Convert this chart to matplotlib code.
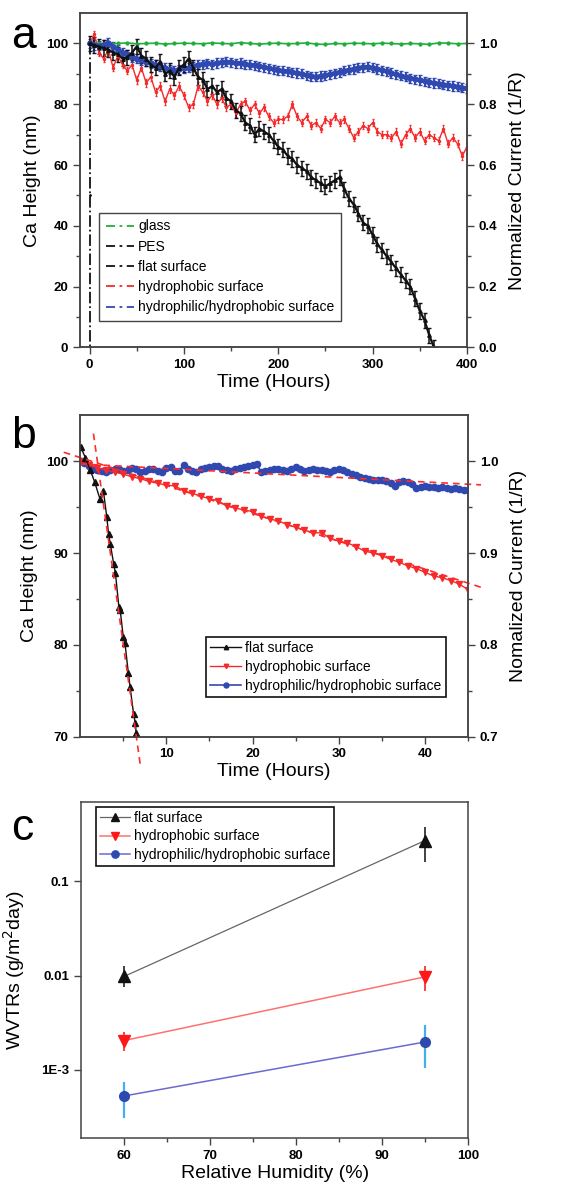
import numpy as np
import matplotlib
matplotlib.use("Agg")
import matplotlib.pyplot as plt
from matplotlib.lines import Line2D
from matplotlib.ticker import MultipleLocator, FixedLocator, NullLocator

plt.rcParams['font.family'] = ['Liberation Sans', 'DejaVu Sans']

# ---------------- panel a : long-term Ca test ----------------
a_labels = ['glass', 'PES', 'flat surface', 'hydrophobic surface',
            'hydrophilic/hydrophobic surface']

a_glass_t = np.arange(0, 401, 10)
a_glass_y = [100, 100.1, 99.9, 100, 100.2, 99.9, 100, 100.1, 99.8, 100, 100.1,
             100, 99.9, 100.2, 100, 99.9, 100.3, 100, 99.8, 100, 100.1,
             99.9, 100, 100.2, 99.8, 99.7, 100, 99.9, 100.1, 100, 99.9,
             100.1, 100, 99.8, 100, 99.9, 99.7, 100.2, 100.1, 99.9, 100]

a_pes_t = [0, 0, 0]
a_pes_y = [100, 50, 0]

a_flat_t = np.arange(0, 366, 5)
a_flat_y = [100, 99.5, 99, 98.5, 98, 97, 96.5, 95, 95.5, 97, 99, 96, 95, 93,
            92, 94, 90, 91, 89, 92, 93, 95, 92, 89, 88, 85, 86, 84, 85, 82,
            81, 78, 77, 74, 73, 70, 72, 71, 70, 68, 66, 65, 63, 62, 60, 59,
            58, 56, 55, 54, 53, 54, 55, 56, 52, 49, 47, 44, 41, 40, 37, 34,
            32, 30, 28, 26, 24, 22, 20, 16, 12, 9, 4, 0]

a_hphob_t = np.arange(0, 401, 5)
a_hphob_y = [100, 103, 97, 95, 98, 92, 96, 93, 91, 93, 88, 92, 87, 89, 84,
             86, 81, 85, 83, 86, 83, 79, 80, 86, 84, 81, 83, 80, 82, 79, 80,
             77, 80, 81, 78, 80, 77, 79, 76, 74, 75, 75, 76, 80, 76, 74, 76,
             73, 74, 72, 75, 74, 76, 74, 75, 72, 69, 71, 73, 72, 74, 71, 70,
             70, 69, 71, 67, 70, 72, 69, 71, 68, 70, 69, 68, 72, 67, 69, 67,
             63, 66]

a_mixed_t = np.arange(0, 401, 5)
a_mixed_y = [100, 99.5, 99.2, 99.6, 100.2, 99, 98, 97, 96.5, 95.5, 95, 94.5,
             94, 93.5, 93, 92.5, 92, 91.5, 91, 91.5, 91.8, 92, 92.5, 93, 93.2,
             93.5, 93.2, 93.6, 93.8, 94, 93.8, 93.5, 93.6, 93.2, 93, 92.8,
             92.5, 92.2, 91.8, 91.5, 91.2, 91, 90.8, 90.5, 90.3, 90, 89.5,
             89.2, 89, 89.3, 89.5, 89.8, 90.2, 90.6, 91, 91.3, 91.6, 92, 92.2,
             92.3, 92, 91.6, 91.2, 90.8, 90.3, 89.8, 89.4, 89, 88.6, 88.2, 88,
             87.6, 87.2, 87, 86.8, 86.5, 86.3, 86, 85.8, 85.5, 85.2]

a_err = {'glass': 0.3, 'flat': 2.5, 'hphob': 1.2, 'mixed': 1.5}

# ---------------- panel b : first 45 hours ----------------
b_labels = ['flat surface', 'hydrophobic surface', 'hydrophilic/hydrophobic surface']

b_flat_t = [0.1, 0.6, 1.2, 1.7, 2.3, 2.7, 3.1, 3.3, 3.5, 3.9, 4.1, 4.5, 4.65,
            5.0, 5.2, 5.6, 5.8, 6.2, 6.4, 6.5]
b_flat_y = [101.5, 100.4, 99.0, 97.7, 95.9, 96.8, 93.9, 92.1, 91.0, 88.8, 87.8,
            84.1, 83.8, 80.9, 80.2, 76.9, 75.4, 72.5, 71.5, 70.4]

b_hphob_t = np.arange(0, 46, 1)
b_hphob_y = [100, 99.6, 99.3, 99.0, 98.8, 98.6, 98.3, 98.1, 97.8, 97.6, 97.4,
             97.3, 96.8, 96.5, 96.2, 95.9, 95.7, 95.1, 94.9, 94.7, 94.5, 94.0,
             93.7, 93.5, 93.1, 92.8, 92.5, 92.2, 92.2, 91.6, 91.3, 91.1, 90.7,
             90.2, 90.0, 89.7, 89.3, 89.0, 88.6, 88.3, 87.9, 87.5, 87.3, 87.0,
             86.6, 86.0]

b_mixed_t = np.arange(0, 45.5, 0.5)
b_mixed_y = [100, 99.8, 99.5, 99.2, 99.0, 98.9, 98.8, 99.0, 99.2, 99.1, 98.9,
             99.0, 99.3, 99.1, 98.8, 98.9, 99.1, 99.2, 98.9, 98.8, 99.3, 99.4,
             98.9, 98.9, 99.6, 99.2, 98.9, 98.8, 99.2, 99.3, 99.4, 99.5, 99.5,
             99.2, 99.0, 98.9, 99.2, 99.3, 99.4, 99.5, 99.6, 99.7, 98.8, 98.9,
             99.0, 99.1, 99.1, 99.0, 98.9, 99.2, 99.4, 99.1, 98.9, 99.0, 99.1,
             99.0, 99.0, 98.9, 98.8, 99.0, 99.2, 99.0, 98.8, 98.6, 98.5, 98.3,
             98.2, 98.1, 98.0, 97.9, 97.9, 97.8, 97.6, 97.3, 97.7, 97.8, 97.7,
             97.5, 97.1, 97.2, 97.3, 97.2, 97.2, 97.1, 97.2, 97.1, 97.0, 97.1,
             97.0, 96.9, 96.9]

# linear fits (intercept, slope, t_start, t_end)
b_fits = [(113.3, -6.64, 1.55, 7.0),
          (100.4, -0.304, -1.9, 46.5),
          (99.7, -0.049, 0.0, 46.5)]

# ---------------- panel c : WVTR vs humidity ----------------
c_rh = [60, 95]
c_flat = [0.0098, 0.27]
c_flat_lo = [0.0075, 0.16]
c_flat_hi = [0.0125, 0.38]
c_hphob = [0.00205, 0.0097]
c_hphob_lo = [0.0016, 0.0068]
c_hphob_hi = [0.0025, 0.0125]
c_mixed = [0.00053, 0.00198]
c_mixed_lo = [0.00031, 0.00105]
c_mixed_hi = [0.00075, 0.0030]

GREEN = '#1fae3a'
RED = '#f52a2a'
BLUE = '#3049b0'
BLACK = '#111111'
SPINE = '#444444'

fig = plt.figure(figsize=(5.64, 11.9), dpi=100)


def style_axes(ax):
    for s in ax.spines.values():
        s.set_color(SPINE)
        s.set_linewidth(1.1)
    ax.tick_params(which='both', direction='out', top=False, right=False,
                   labelsize=9.5, width=1, color=SPINE)
    ax.tick_params(which='major', length=5)
    ax.tick_params(which='minor', length=3)
    for lb in ax.get_xticklabels() + ax.get_yticklabels():
        lb.set_fontweight('bold')


def right_axis(ax, lim, major, minor, label):
    axr = ax.twinx()
    axr.set_ylim(*lim)
    axr.yaxis.set_major_locator(FixedLocator(major))
    axr.yaxis.set_minor_locator(FixedLocator(minor))
    axr.set_ylabel(label, fontsize=14, labelpad=8)
    style_axes(axr)
    axr.tick_params(which='both', right=True, left=False, labelright=True)
    for lb in axr.get_yticklabels():
        lb.set_fontweight('bold')
    return axr


# ---- a ----
ax = fig.add_axes([0.142, 0.708, 0.686, 0.281])
ax.errorbar(a_glass_t, a_glass_y, yerr=a_err['glass'], color=GREEN, lw=1.2,
            marker='.', ms=4, elinewidth=0.8, capsize=1)
ax.plot(a_pes_t, a_pes_y, color=BLACK, lw=1.3, ls='-.', marker='.', ms=2)
ax.errorbar(a_hphob_t, a_hphob_y, yerr=a_err['hphob'], color=RED, lw=1.0,
            marker='.', ms=3, elinewidth=0.8, capsize=1)
ax.errorbar(a_mixed_t, a_mixed_y, yerr=a_err['mixed'], color=BLUE, lw=3.0,
            marker='o', ms=3.5, elinewidth=1.4, capsize=1.2)
ax.errorbar(a_flat_t, a_flat_y, yerr=a_err['flat'], color=BLACK, lw=1.6,
            marker='^', ms=2.5, elinewidth=1.1, capsize=1.3)
ax.set_xlim(-10, 400)
ax.set_ylim(0, 110)
ax.xaxis.set_major_locator(MultipleLocator(100))
ax.xaxis.set_minor_locator(MultipleLocator(50))
ax.yaxis.set_major_locator(FixedLocator([0, 20, 40, 60, 80, 100]))
ax.yaxis.set_minor_locator(FixedLocator([10, 30, 50, 70, 90]))
ax.set_xlabel('Time (Hours)', fontsize=14, labelpad=2)
ax.set_ylabel('Ca Height (nm)', fontsize=14, labelpad=4)
style_axes(ax)
right_axis(ax, (0, 1.1), [0, 0.2, 0.4, 0.6, 0.8, 1.0], [0.1, 0.3, 0.5, 0.7, 0.9],
           'Normalized Current (1/R)')
dd = (0, (5, 2.5, 1.5, 2.5))
handles = [Line2D([], [], color=c, ls=dd, lw=1.3) for c in
           [GREEN, BLACK, BLACK, RED, BLUE]]
leg = ax.legend(handles, a_labels, loc='lower left', bbox_to_anchor=(0.049, 0.078),
                borderaxespad=0, fontsize=10, handlelength=2.0, handletextpad=0.3,
                labelspacing=0.45, borderpad=0.5, fancybox=False,
                edgecolor=SPINE, framealpha=1)
leg.get_frame().set_linewidth(1.0)
fig.text(0.02, 0.969, 'a', fontsize=32, va='center')

# ---- b ----
ax = fig.add_axes([0.142, 0.381, 0.688, 0.270])
ax.plot(b_mixed_t, b_mixed_y, color=BLUE, lw=1.2, marker='o', ms=4.5,
        label=b_labels[2], zorder=3)
ax.plot(b_hphob_t, b_hphob_y, color=RED, lw=1.0, marker='v', ms=4,
        label=b_labels[1], zorder=3)
ax.plot(b_flat_t, b_flat_y, color=BLACK, lw=1.0, marker='^', ms=4,
        label=b_labels[0], zorder=3)
for b0, slope, t0, t1 in b_fits:
    tt = np.array([t0, t1])
    ax.plot(tt, b0 + slope * tt, color='#ff2a2a', ls=(0, (4, 3)), lw=1.2,
            clip_on=False, zorder=4)
ax.set_xlim(0, 45)
ax.set_ylim(70, 105)
ax.xaxis.set_major_locator(FixedLocator([10, 20, 30, 40]))
ax.xaxis.set_minor_locator(FixedLocator([5, 15, 25, 35, 45]))
ax.yaxis.set_major_locator(FixedLocator([70, 80, 90, 100]))
ax.yaxis.set_minor_locator(FixedLocator([75, 85, 95]))
ax.set_xlabel('Time (Hours)', fontsize=14, labelpad=2)
ax.set_ylabel('Ca Height (nm)', fontsize=14, labelpad=6)
style_axes(ax)
right_axis(ax, (0.7, 1.05), [0.7, 0.8, 0.9, 1.0], [0.75, 0.85, 0.95],
           'Nomalized Current (1/R)')
h, l = ax.get_legend_handles_labels()
leg = ax.legend(h[::-1], l[::-1], loc='lower left', bbox_to_anchor=(0.325, 0.124),
                borderaxespad=0, fontsize=10, handlelength=2.2, handletextpad=0.3,
                labelspacing=0.35, borderpad=0.3, fancybox=False, markerscale=0.8,
                edgecolor=BLACK, framealpha=1, numpoints=1)
leg.get_frame().set_linewidth(1.2)
fig.text(0.02, 0.633, 'b', fontsize=32, va='center')

# ---- c ----
ax = fig.add_axes([0.144, 0.0437, 0.686, 0.2823])
ax.plot(c_rh, c_flat, color='#666666', lw=0.9, marker='^', ms=8, mfc=BLACK,
        mec=BLACK, label='flat surface', zorder=3)
ax.errorbar(c_rh, c_flat, yerr=[np.subtract(c_flat, c_flat_lo), np.subtract(c_flat_hi, c_flat)],
            fmt='none', ecolor='#333333', elinewidth=1.3, zorder=2)
ax.plot(c_rh, c_hphob, color='#ff7070', lw=1.1, marker='v', ms=8, mfc='#ff1818',
        mec='#ff1818', label='hydrophobic surface', zorder=3)
ax.errorbar(c_rh, c_hphob, yerr=[np.subtract(c_hphob, c_hphob_lo), np.subtract(c_hphob_hi, c_hphob)],
            fmt='none', ecolor='#ff3030', elinewidth=1.3, zorder=2)
ax.plot(c_rh, c_mixed, color='#6a6ad0', lw=1.1, marker='o', ms=7, mfc='#2d4ab0',
        mec='#2d4ab0', label='hydrophilic/hydrophobic surface', zorder=3)
ax.errorbar(c_rh, c_mixed, yerr=[np.subtract(c_mixed, c_mixed_lo), np.subtract(c_mixed_hi, c_mixed)],
            fmt='none', ecolor='#45aef0', elinewidth=1.6, zorder=2)
ax.set_yscale('log')
ax.set_xlim(55, 100)
ax.set_ylim(1.9e-4, 0.69)
ax.xaxis.set_major_locator(FixedLocator([60, 70, 80, 90, 100]))
ax.xaxis.set_minor_locator(FixedLocator([65, 75, 85, 95]))
ax.yaxis.set_major_locator(FixedLocator([1e-3, 1e-2, 1e-1]))
ax.yaxis.set_minor_locator(NullLocator())
ax.set_yticklabels(['1E-3', '0.01', '0.1'])
ax.set_xlabel('Relative Humidity (%)', fontsize=14, labelpad=2)
ax.set_ylabel('WVTRs (g/m$^2$day)', fontsize=14, labelpad=10)
style_axes(ax)
leg = ax.legend(loc='upper left', bbox_to_anchor=(0.039, 0.985), borderaxespad=0,
                fontsize=10, handlelength=2.1, handletextpad=0.3, labelspacing=0.3,
                borderpad=0.3, fancybox=False, edgecolor=BLACK, framealpha=1,
                numpoints=1, markerscale=0.75)
leg.get_frame().set_linewidth(1.2)
fig.text(0.02, 0.304, 'c', fontsize=32, va='center')

fig.savefig('out.png', dpi=100)
